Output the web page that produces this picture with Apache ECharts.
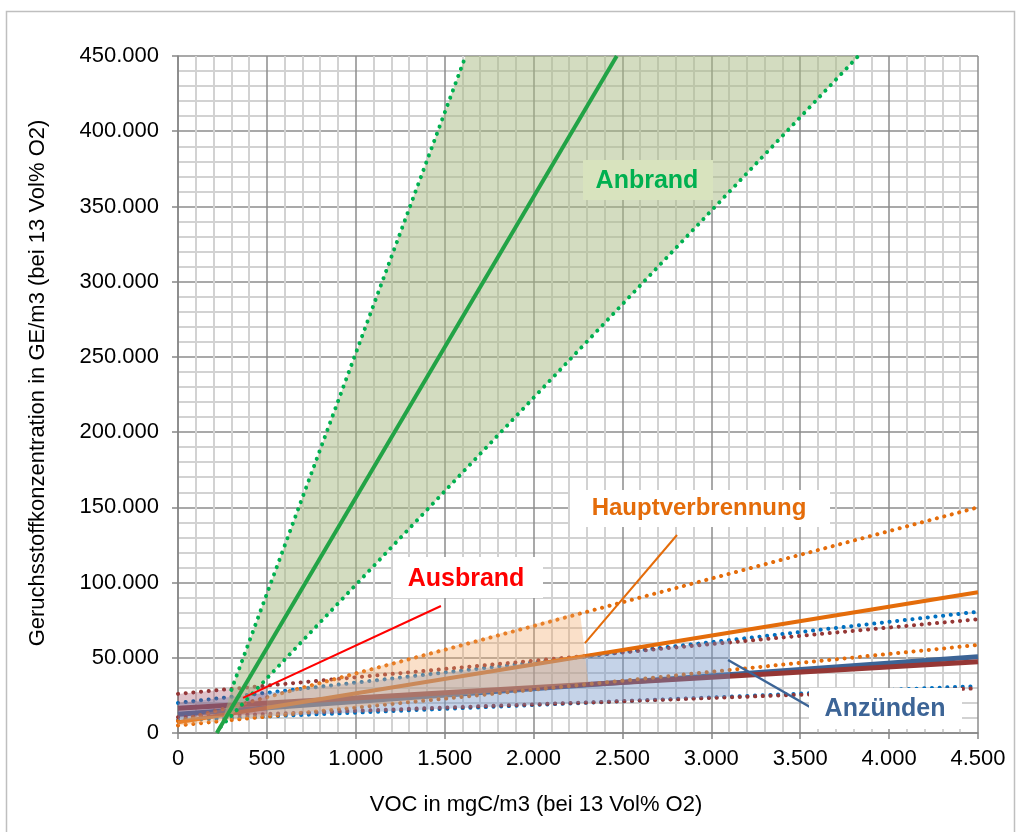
<!DOCTYPE html>
<html>
<head>
<meta charset="utf-8">
<script src="https://cdn.jsdelivr.net/npm/echarts@6/dist/echarts.min.js"></script>
<style>
  html, body { margin: 0; padding: 0; background: #fff; }
  #chart { width: 1016px; height: 832px; }
</style>
</head>
<body>
<div id="chart"></div>
<script>
// x = VOC in mgC/m3, y = Geruchsstoff in GE/m3, each line read as its two end points
const anbrandFit = [[218, 0], [2468, 450000]];
const anbrandUpper = [[300, 28600], [1618, 450000]];
const anbrandLower = [[240, 4000], [3827, 450000]];

const hauptFit = [[0, 7200], [4500, 93500]];
const hauptUpper = [[0, 8000], [4500, 150000]];
const hauptLower = [[0, 5000], [4500, 58500]];

const anzuendenFit = [[0, 12500], [4500, 50700]];
const anzuendenUpper = [[0, 20000], [4500, 80600]];
const anzuendenLower = [[0, 8500], [4500, 31200]];

const ausbrandFit = [[0, 16400], [4500, 47400]];
const ausbrandUpper = [[0, 26000], [4500, 75600]];
const ausbrandLower = [[0, 10500], [4500, 29700]];

// shaded areas (corner points)
const anbrandBand = [[300, 28600], [1618, 450000], [3827, 450000], [240, 4000]];
const hauptBand = [[0, 8000], [2261, 80600], [2308, 33500], [0, 5000]];
const anzuendenBand = [[0, 20000], [3105, 61800], [3105, 24200], [0, 8500]];
const ausbrandBand = [[0, 26000], [500, 31500], [500, 12600], [0, 10500]];

// callout pointers
const ausbrandPointer = [[366, 23300], [1479, 84400]];
const hauptPointer = [[2289, 59800], [2807, 131600]];
const anzuendenPointer = [[3094, 48500], [3555, 17300]];

const xTicks = { min: 0, max: 4500, step: 500 };
const yTicks = { min: 0, max: 450000, step: 50000 };

const FONT = '"Liberation Sans", Arial, sans-serif';

function fmt(v) {
  return String(v).replace(/\B(?=(\d{3})+(?!\d))/g, '.');
}

function band(points, color, z) {
  return {
    type: 'custom',
    data: points,
    encode: { x: 0, y: 1 },
    clip: true,
    silent: true,
    z: z,
    renderItem: function (params, api) {
      if (params.dataIndex !== 0) return;
      return {
        type: 'polygon',
        shape: { points: points.map(p => api.coord(p)) },
        style: { fill: color }
      };
    }
  };
}

function solid(data, color, width, z) {
  return {
    type: 'line', data: data, showSymbol: false, silent: true, z: z,
    lineStyle: { color: color, width: width }
  };
}

function dotted(data, color, z) {
  return {
    type: 'line', data: data, showSymbol: false, silent: true, z: z,
    lineStyle: { color: color, width: 4, type: [0.1, 7.6], cap: 'round' }
  };
}

const GREEN = '#00b050';
const ORANGE = '#e46c0a';
const BLUE = '#0070c0';
const STEEL = '#3c6496';
const DARKRED = '#953735';

const chart = echarts.init(document.getElementById('chart'));

chart.setOption({
  animation: false,
  grid: { left: 178, right: 38, top: 56, bottom: 99, outerBoundsMode: 'none' },
  xAxis: {
    type: 'value', min: xTicks.min, max: xTicks.max, interval: xTicks.step,
    axisLine: { show: true, lineStyle: { color: '#868686', width: 1.5 } },
    axisTick: { show: true, length: 6, lineStyle: { color: '#868686', width: 1.5 } },
    axisLabel: { color: '#000', fontSize: 22, fontFamily: FONT, margin: 15, formatter: fmt },
    splitLine: { show: true, lineStyle: { color: '#8c8c8c', width: 1.5 } },
    minorTick: { show: false, splitNumber: 5 },
    minorSplitLine: { show: true, lineStyle: { color: '#d2d2d2', width: 2 } }
  },
  yAxis: {
    type: 'value', min: yTicks.min, max: yTicks.max, interval: yTicks.step,
    axisLine: { show: true, lineStyle: { color: '#868686', width: 1.5 } },
    axisTick: { show: true, length: 6, lineStyle: { color: '#868686', width: 1.5 } },
    axisLabel: { color: '#000', fontSize: 22, fontFamily: FONT, margin: 19, formatter: fmt },
    splitLine: { show: true, lineStyle: { color: '#8c8c8c', width: 1.5 } },
    minorTick: { show: false, splitNumber: 5 },
    minorSplitLine: { show: true, lineStyle: { color: '#d2d2d2', width: 2 } }
  },
  series: [
    dotted(anzuendenUpper, BLUE, 2),
    dotted(anzuendenLower, BLUE, 2),
    solid(anzuendenFit, STEEL, 5, 2),
    dotted(ausbrandUpper, DARKRED, 2),
    dotted(ausbrandLower, DARKRED, 2),
    solid(ausbrandFit, DARKRED, 5, 2),
    dotted(hauptUpper, ORANGE, 2),
    dotted(hauptLower, ORANGE, 2),
    solid(hauptFit, ORANGE, 4, 2),

    band(anzuendenBand, 'rgba(110,145,197,0.4)', 3),
    band(hauptBand, 'rgba(242,165,100,0.35)', 3),
    band(ausbrandBand, 'rgba(150,55,80,0.3)', 3),

    band(anbrandBand, 'rgba(167,185,129,0.5)', 4),
    dotted(anbrandUpper, GREEN, 5),
    dotted(anbrandLower, GREEN, 5),
    solid(anbrandFit, '#22a346', 4, 5),

    solid(ausbrandPointer, '#ff0000', 2, 6),
    solid(hauptPointer, ORANGE, 2, 6),
    solid(anzuendenPointer, STEEL, 2.5, 6)
  ],
  graphic: [
    { type: 'rect', shape: { x: 6.5, y: 11.5, width: 1008, height: 830 },
      style: { fill: 'none', stroke: '#bfbfbf', lineWidth: 1.5 }, z: 0, silent: true },
    { type: 'text', x: 38, y: 383, rotation: Math.PI / 2, z: 10,
      style: { text: 'Geruchsstoffkonzentration in GE/m3 (bei 13 Vol% O2)', font: '22px ' + FONT,
               fill: '#000', textAlign: 'center', textVerticalAlign: 'middle' } },
    { type: 'text', x: 536, y: 805, z: 10,
      style: { text: 'VOC in mgC/m3 (bei 13 Vol% O2)', font: '22px ' + FONT,
               fill: '#000', textAlign: 'center', textVerticalAlign: 'middle' } },

    { type: 'rect', shape: { x: 583, y: 160, width: 130, height: 40 }, style: { fill: '#d8e3be' }, z: 20 },
    { type: 'text', x: 647, y: 181, z: 21,
      style: { text: 'Anbrand', font: 'bold 25px ' + FONT, fill: GREEN, textAlign: 'center', textVerticalAlign: 'middle' } },

    { type: 'rect', shape: { x: 393, y: 557, width: 150, height: 41 }, style: { fill: '#fff' }, z: 20 },
    { type: 'text', x: 466, y: 579, z: 21,
      style: { text: 'Ausbrand', font: 'bold 25px ' + FONT, fill: '#ff0000', textAlign: 'center', textVerticalAlign: 'middle' } },

    { type: 'rect', shape: { x: 570, y: 490, width: 260, height: 37 }, style: { fill: '#fff' }, z: 20 },
    { type: 'text', x: 699, y: 508, z: 21,
      style: { text: 'Hauptverbrennung', font: 'bold 24px ' + FONT, fill: ORANGE, textAlign: 'center', textVerticalAlign: 'middle' } },

    { type: 'rect', shape: { x: 809, y: 688, width: 153, height: 41 }, style: { fill: '#fff' }, z: 20 },
    { type: 'text', x: 885, y: 709, z: 21,
      style: { text: 'Anzünden', font: 'bold 25px ' + FONT, fill: STEEL, textAlign: 'center', textVerticalAlign: 'middle' } }
  ]
});
</script>
</body>
</html>
